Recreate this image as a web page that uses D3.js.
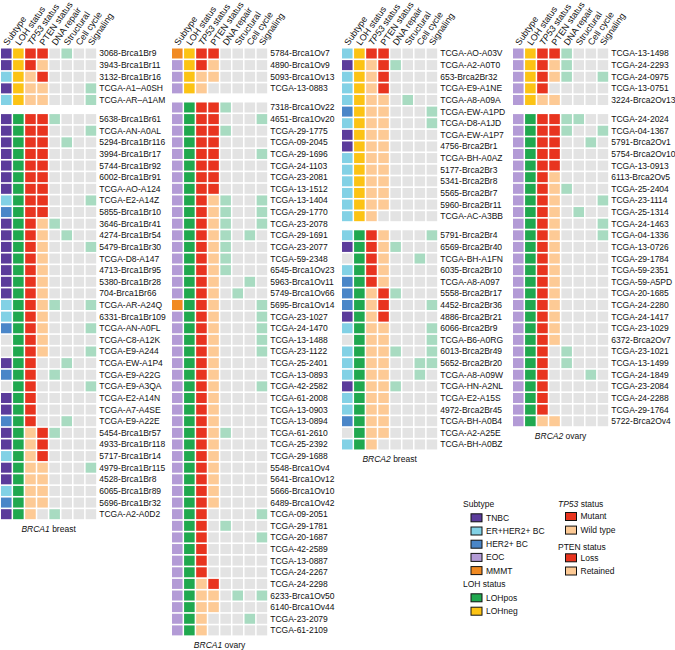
<!DOCTYPE html>
<html>
<head>
<meta charset="utf-8">
<script src="https://cdn.jsdelivr.net/npm/d3@7"></script>
<style>
  body { margin: 0; background: #fff; }
  svg { font-family: "Liberation Sans", Arial, Helvetica, sans-serif; }
</style>
</head>
<body>
<div class="canvas"></div>
<script>
// columns shown on every panel
const columns = ['Subtype', 'LOH status', 'TP53 status', 'PTEN status', 'DNA repair', 'Structural', 'Cell cycle', 'Signaling']

// row codes: subtype (T TNBC, E ER+HER2+, H HER2+, O EOC, M MMMT, - n/a),
// LOH (P pos, N neg), TP53 (M mutant, W wild type), PTEN (L loss, R retained, - n/a),
// then DNA repair / structural / cell cycle / signaling hits (1 = altered)
const brca1BreastSamples = ['3068-Brca1Br9', '3943-Brca1Br11', '3132-Brca1Br16', 'TCGA-A1–A0SH', 'TCGA-AR–A1AM',
  '5638-Brca1Br61', 'TCGA-AN-A0AL', '5294-Brca1Br116', '3994-Brca1Br17', '5744-Brca1Br92', '6002-Brca1Br91',
  'TCGA-AO-A124', 'TCGA-E2-A14Z', '5855-Brca1Br10', '3646-Brca1Br41', '4274-Brca1Br54', '5479-Brca1Br30',
  'TCGA-D8-A147', '4713-Brca1Br95', '5380-Brca1Br28', '704-Brca1Br66', 'TCGA-AR-A24Q', '6331-Brca1Br109',
  'TCGA-AN-A0FL', 'TCGA-C8-A12K', 'TCGA-E9-A244', 'TCGA-EW-A1P4', 'TCGA-E9-A22G', 'TCGA-E9-A3QA',
  'TCGA-E2-A14N', 'TCGA-A7-A4SE', 'TCGA-E9-A22E', '5454-Brca1Br57', '4933-Brca1Br118', '5717-Brca1Br14',
  '4979-Brca1Br115', '4528-Brca1Br8', '6065-Brca1Br89', '5696-Brca1Br32', 'TCGA-A2-A0D2']
const brca1BreastCodes = ['TNML0100', 'TNMR0000', 'ENWL0000', 'TNWR0001', 'ENWR0001',
  'TPML1000', 'TPML0001', 'TPML0100', 'TPML0000', 'TPML0000', 'TPML0000',
  'TPML0000', 'EPML0001', 'HPML0000', 'TPMR1000', 'TPMR0100', 'TPMR0001',
  'TPMR0000', 'TPMR0000', 'TPMR0000', 'TPMR0000', 'EPMR1001', 'EPMR0000',
  'HPMR0001', '-PMR0000', '-PMR0001', 'TPM-0100', 'HPM-1000', '-PM-0001',
  'TPM-0000', 'TPM-0000', 'HPM-0100', 'TPWL1000', 'TPWL0000', 'EPWL0000',
  'TPWR0001', 'TPWR0000', 'EPWR0000', 'HPWR0000', 'TPW-1000']

const brca1OvarySamples = ['5784-Brca1Ov7', '4890-Brca1Ov9', '5093-Brca1Ov13', 'TCGA-13-0883',
  '7318-Brca1Ov22', '4651-Brca1Ov20', 'TCGA-29-1775', 'TCGA-09-2045', 'TCGA-29-1696', 'TCGA-24-1103',
  'TCGA-23-2081', 'TCGA-13-1512', 'TCGA-13-1404', 'TCGA-29-1770', 'TCGA-23-2078', 'TCGA-29-1691',
  'TCGA-23-2077', 'TCGA-59-2348', '6545-Brca1Ov23', '5963-Brca1Ov11', '5749-Brca1Ov66', '5695-Brca1Ov14',
  'TCGA-23-1027', 'TCGA-24-1470', 'TCGA-13-1488', 'TCGA-23-1122', 'TCGA-25-2401', 'TCGA-13-0893',
  'TCGA-42-2582', 'TCGA-61-2008', 'TCGA-13-0903', 'TCGA-13-0894', 'TCGA-61-2610', 'TCGA-25-2392',
  'TCGA-29-1688', '5548-Brca1Ov4', '5641-Brca1Ov12', '5666-Brca1Ov10', '6489-Brca1Ov42', 'TCGA-09-2051',
  'TCGA-29-1781', 'TCGA-20-1687', 'TCGA-42-2589', 'TCGA-13-0887', 'TCGA-24-2267', 'TCGA-24-2298',
  '6233-Brca1Ov50', '6140-Brca1Ov44', 'TCGA-23-2079', 'TCGA-61-2109']
const brca1OvaryCodes = ['MNML0000', 'ONMR0000', 'ONWR0000', 'ONW-0000',
  'OPML1000', 'OPML0001', 'OPML1000', 'OPML0000', 'OPML0001', 'OPML0000',
  'OPML0000', 'OPML0000', 'OPMR1001', 'OPMR1001', 'OPMR1001', 'OPMR1010',
  'OPMR1000', 'OPMR1000', 'OPMR1000', 'OPMR0010', 'OPMR0100', 'MPMR0001',
  'OPMR0001', 'OPMR0001', 'OPMR0001', 'OPMR0001', 'OPMR0000', 'OPMR0000',
  'OPMR0001', 'OPMR0000', 'OPMR0000', 'OPMR0000', 'OPMR1000', 'OPMR0000',
  'OPMR0000', 'OPMR0000', 'OPMR0000', 'OPMR0000', 'OPMR0000', 'OPM-0001',
  'OPM-1000', 'OPM-0001', 'OPM-0000', 'OPM-0000', 'OPM-0000', 'OPWL0000',
  'OPWR0101', 'OPWR0000', 'OPW-0010', 'OPW-0000']

const brca2BreastSamples = ['TCGA-AO-A03V', 'TCGA-A2-A0T0', '653-Brca2Br32', 'TCGA-E9-A1NE', 'TCGA-A8-A09A',
  'TCGA-EW-A1PD', 'TCGA-D8-A1JD', 'TCGA-EW-A1P7', '4756-Brca2Br1', 'TCGA-BH-A0AZ', '5177-Brca2Br3',
  '5341-Brca2Br8', '5565-Brca2Br7', '5960-Brca2Br11', 'TCGA-AC-A3BB',
  '5791-Brca2Br4', '6569-Brca2Br40', 'TCGA-BH-A1FN', '6035-Brca2Br10', 'TCGA-A8-A097', '5558-Brca2Br17',
  '4452-Brca2Br36', '4886-Brca2Br21', '6066-Brca2Br9', 'TCGA-B6-A0RG', '6013-Brca2Br49', '5652-Brca2Br20',
  'TCGA-A8-A09W', 'TCGA-HN-A2NL', 'TCGA-E2-A15S', '4972-Brca2Br45', 'TCGA-BH-A0B4', 'TCGA-A2-A25E',
  'TCGA-BH-A0BZ']
const brca2BreastCodes = ['ENML0000', 'TNWL1000', 'ENWL0000', 'ENWL0000', 'ENWR0100',
  'HNWR0001', 'ENWR0001', 'TNWR0000', 'TNWR0000', 'ENWR0000', 'ENWR0000',
  'ENWR0000', 'ENWR0000', 'ENWR0000', 'ENW-0000',
  'EPMR0001', 'TPMR1000', '-PMR0010', 'EPMR0000', 'HPMR0000', 'HPWL1000',
  'HPWL0001', 'TPWL0000', 'EPWR0001', '-PWR0001', 'EPWR1001', 'EPWR0011',
  'EPWR0010', 'TPWR1000', 'EPWR0000', 'EPWR0000', 'HPWR0000', '-PWR0000',
  'EPW-0000']

const brca2OvarySamples = ['TCGA-13-1498', 'TCGA-24-2293', 'TCGA-24-0975', 'TCGA-13-0751', '3224-Brca2Ov13',
  'TCGA-24-2024', 'TCGA-04-1367', '5791-Brca2Ov1', '5754-Brca2Ov10', 'TCGA-13-0913', '6113-Brca2Ov5',
  'TCGA-25-2404', 'TCGA-23-1114', 'TCGA-25-1314', 'TCGA-24-1463', 'TCGA-04-1336', 'TCGA-13-0726',
  'TCGA-29-1784', 'TCGA-59-2351', 'TCGA-59-A5PD', 'TCGA-20-1685', 'TCGA-24-2280', 'TCGA-24-1417',
  'TCGA-23-1029', '6372-Brca2Ov7', 'TCGA-23-1021', 'TCGA-13-1499', 'TCGA-24-1849', 'TCGA-23-2084',
  'TCGA-24-2288', 'TCGA-29-1764', '5722-Brca2Ov4']
const brca2OvaryCodes = ['ONML1000', 'ONMR1000', 'ONMR1001', 'ONM-0000', 'ONWR0000',
  'OPML1100', 'OPML1001', 'OPML0010', 'OPML0000', 'OPML0000', 'OPMR0000',
  'OPMR1000', 'OPMR0001', 'OPMR0100', 'OPMR0001', 'OPMR0001', 'OPMR0000',
  'OPMR0000', 'OPMR0000', 'OPMR0000', 'OPMR0000', 'OPMR0000', 'OPMR0000',
  'OPMR0000', 'OPMR0000', 'OPM-1000', 'OPM-1000', 'OPM-0010', 'OPM-0000',
  'OPM-0000', 'OPM-0000', 'OPWR0000']

// number of rows in the first (LOHneg) block of each panel
const firstBlockSizes = [5, 4, 15, 5]
const panelGenes = ['BRCA1', 'BRCA1', 'BRCA2', 'BRCA2']
const panelTissues = ['breast', 'ovary', 'breast', 'ovary']

const subtypeLegend = ['TNBC', 'ER+HER2+ BC', 'HER2+ BC', 'EOC', 'MMMT']
const lohLegend = ['LOHpos', 'LOHneg']
const tp53Legend = ['Mutant', 'Wild type']
const ptenLegend = ['Loss', 'Retained']

// colours
const gray = '#e3e3e3', hit = '#a8dbc1', red = '#e8341f', peach = '#fdca95'
const subtypeColor = { T: '#5b3c9b', E: '#82d1e5', H: '#4a86c8', O: '#b39bd6', M: '#f18a22', '-': gray }
const lohColor = { P: '#20a84f', N: '#fcc314' }
const statusColor = { M: red, W: peach, L: red, R: peach, '-': gray }

const panels = [
  { samples: brca1BreastSamples, codes: brca1BreastCodes },
  { samples: brca1OvarySamples, codes: brca1OvaryCodes },
  { samples: brca2BreastSamples, codes: brca2BreastCodes },
  { samples: brca2OvarySamples, codes: brca2OvaryCodes }
]

const svgWidth = 675, svgHeight = 650
const panelX = [1, 172, 342, 513]
const colStep = 11.9, rowStep = 11.62, blockGap = 7.5, firstRowY = 53.5
const cellW = 10.4, cellH = 10

const svg = d3.select('.canvas')
  .append('svg')
  .attr('width', svgWidth)
  .attr('height', svgHeight)

const x = d3.scaleBand().domain(columns).range([0, colStep * columns.length]).paddingInner(1 - cellW / colStep).paddingOuter(0)

const cellFill = (code, j) => {
  const c = code[j]
  if (j === 0) return subtypeColor[c]
  if (j === 1) return lohColor[c]
  if (j <= 3) return statusColor[c]
  return c === '1' ? hit : gray
}

panels.forEach((p, k) => {
  const nFirst = firstBlockSizes[k]
  // row centre from its index, with the break between the two LOH blocks
  const y = d3.scaleLinear().domain([0, 1]).range([firstRowY, firstRowY + rowStep])
  const rowY = i => y(i + (i >= nFirst ? blockGap / rowStep : 0))

  const graph = svg.append('g')
    .attr('transform', `translate(${panelX[k]}, 0)`)

  // column headers
  const headers = graph.selectAll('text.header')
    .data(columns)
    .enter()
    .append('text')
    .attr('class', 'header')
    .attr('font-size', 9)
    .attr('fill', '#111')
    .attr('transform', d => `translate(${x(d) + x.bandwidth() / 2 + 1.5}, 46) rotate(-55)`)

  headers.each(function (d) {
    const t = d3.select(this)
    if (d === 'TP53 status') {
      t.append('tspan').attr('font-style', 'italic').text('TP53')
      t.append('tspan').text(' status')
    } else {
      t.text(d)
    }
  })

  // rows
  const rows = graph.selectAll('g.row')
    .data(p.codes.map((code, i) => ({ code, name: p.samples[i], i })))
    .enter()
    .append('g')
    .attr('class', 'row')
    .attr('transform', d => `translate(0, ${rowY(d.i)})`)

  rows.selectAll('rect')
    .data(d => columns.map((c, j) => ({ c, fill: cellFill(d.code, j) })))
    .enter()
    .append('rect')
    .attr('x', d => x(d.c))
    .attr('y', -cellH / 2)
    .attr('width', x.bandwidth())
    .attr('height', cellH)
    .attr('fill', d => d.fill)

  rows.append('text')
    .attr('x', colStep * columns.length + 3)
    .attr('dy', '0.35em')
    .attr('font-size', 8.5)
    .attr('fill', '#111')
    .text(d => d.name)

  // panel caption
  const caption = graph.append('text')
    .attr('x', colStep * columns.length / 2)
    .attr('y', rowY(p.codes.length - 1) + 18)
    .attr('text-anchor', 'middle')
    .attr('font-size', 8.5)
    .attr('fill', '#111')
  caption.append('tspan').attr('font-style', 'italic').text(panelGenes[k])
  caption.append('tspan').text(' ' + panelTissues[k])
})

// legend
const legend = svg.append('g')
const swW = 11, swH = 8

const legendTitle = (lx, ly, parts) => {
  const t = legend.append('text').attr('x', lx).attr('y', ly).attr('dy', '0.35em')
    .attr('font-size', 8.5).attr('fill', '#111')
  parts.forEach(([s, it]) => t.append('tspan').attr('font-style', it ? 'italic' : 'normal').text(s))
}

const legendItems = (lx, ly, step, labels, colors) => {
  const g = legend.append('g')
    .selectAll('g')
    .data(labels)
    .enter()
    .append('g')
    .attr('transform', (d, i) => `translate(${lx}, ${ly + i * step})`)
  g.append('rect')
    .attr('x', 0).attr('y', -swH / 2)
    .attr('width', swW).attr('height', swH)
    .attr('fill', (d, i) => colors[i])
    .attr('stroke', '#111')
    .attr('stroke-width', 1)
  g.append('text')
    .attr('x', swW + 4).attr('dy', '0.35em')
    .attr('font-size', 8.5).attr('fill', '#111')
    .text(d => d)
}

legendTitle(463, 504.5, [['Subtype', false]])
legendItems(471, 517.8, 13.2, subtypeLegend, ['T', 'E', 'H', 'O', 'M'].map(c => subtypeColor[c]))
legendTitle(463, 584.5, [['LOH status', false]])
legendItems(471, 597.8, 13.4, lohLegend, [lohColor.P, lohColor.N])

legendTitle(558, 504.5, [['TP53', true], [' status', false]])
legendItems(565.5, 516.5, 13.6, tp53Legend, [red, peach])
legendTitle(558, 546.8, [['PTEN status', false]])
legendItems(565.5, 557.8, 13.2, ptenLegend, [red, peach])
</script>
</body>
</html>
